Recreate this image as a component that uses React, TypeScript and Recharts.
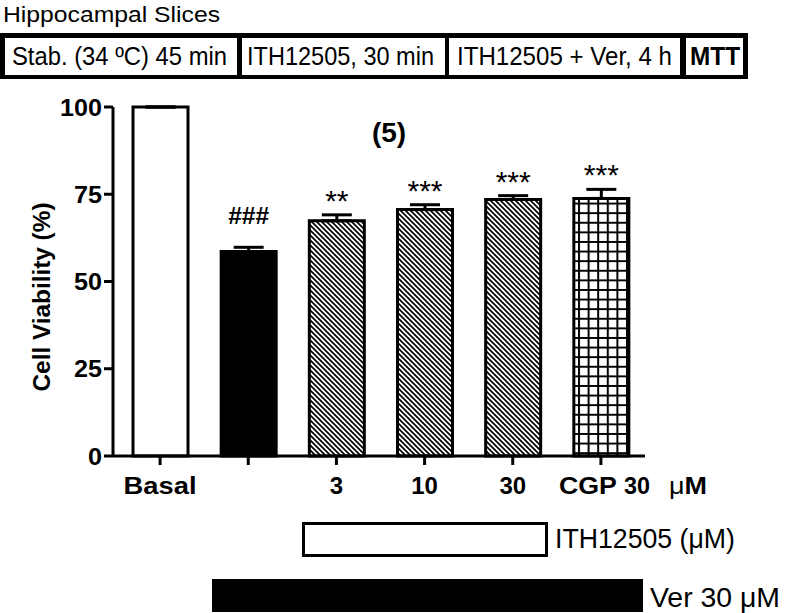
import React from 'react';
import { BarChart, Bar, XAxis, YAxis, ErrorBar, Cell, LabelList } from 'recharts';

const categories = ['Basal', 'Ver', 'ITH3', 'ITH10', 'ITH30', 'CGP'];
const tickLabels = ['Basal', '', '3', '10', '30', 'CGP 30 μM'];
const viability = [100, 58.6, 67.4, 70.6, 73.5, 73.8];
const sem = [0, 1.2, 1.7, 1.4, 1.1, 2.6];
const significance = ['', '###', '**', '***', '***', '***'];
const yTicks = [0, 25, 50, 75, 100];

const barFills = ['#ffffff', '#000000', 'url(#hatch)', 'url(#hatch)', 'url(#hatch)', 'url(#grid)'];

const data = categories.map((name, i) => ({
  name,
  value: viability[i],
  err: [0, sem[i]],
  sig: significance[i],
}));

const FONT = '"Liberation Sans", Arial, Helvetica, sans-serif';

const XTick = (props: any) => {
  const { x, y, payload } = props;
  const idx = categories.indexOf(payload.value);
  const label = tickLabels[idx] || '';
  if (!label) return null;
  if (label.indexOf(' ') >= 0) {
    const words = label.split(' ');
    const offsets = [-42, 23, 68];
    const lengths = [58, 26, 38];
    return (
      <g>
        {words.map((w, i) => (
          <text
            key={i}
            x={x + offsets[i]}
            y={y + 27}
            fontSize={24}
            fontWeight={700}
            fill="#000"
            fontFamily={FONT}
            textLength={lengths[i]}
            lengthAdjust="spacingAndGlyphs"
          >
            {w.startsWith('μ') ? (
              <>
                <tspan fontWeight={400}>μ</tspan>
                {w.slice(1)}
              </>
            ) : (
              w
            )}
          </text>
        ))}
      </g>
    );
  }
  return (
    <text
      x={x}
      y={y + 27}
      textAnchor="middle"
      fontSize={24}
      fontWeight={700}
      fill="#000"
      fontFamily={FONT}
      {...(label.length > 3 ? { textLength: 73, lengthAdjust: 'spacingAndGlyphs' } : {})}
    >
      {label}
    </text>
  );
};

const SigLabel = (props: any) => {
  const vb = props.viewBox || {};
  const x = props.x ?? vb.x;
  const y = props.y ?? vb.y;
  const width = props.width ?? vb.width;
  const height = props.height ?? vb.height;
  const index = props.index;
  if (index === undefined || index === null) return null;
  const s = significance[index];
  if (!s) return null;
  const pxPerUnit = height / viability[index];
  const errTop = y - sem[index] * pxPerUnit;
  const isHash = s.startsWith('#');
  return (
    <text
      x={x + width / 2}
      y={isHash ? errTop - 23 : errTop - 4}
      textAnchor="middle"
      fontSize={isHash ? 24 : 30}
      fontWeight={isHash ? 700 : 400}
      fill="#000"
      fontFamily={FONT}
      {...(isHash ? { textLength: 41, lengthAdjust: 'spacingAndGlyphs' } : {})}
    >
      {s}
    </text>
  );
};

const YTick = (props: any) => {
  const { x, y, payload } = props;
  const s = String(payload.value);
  return (
    <text
      x={x}
      y={y + 8.5}
      textAnchor="end"
      fontSize={24}
      fontWeight={700}
      fill="#000"
      fontFamily={FONT}
      textLength={s.length * 14}
      lengthAdjust="spacingAndGlyphs"
    >
      {s}
    </text>
  );
};

export default function App() {
  return (
    <div
      style={{
        position: 'absolute',
        left: 0,
        top: 0,
        width: 791,
        height: 613,
        background: '#fff',
        fontFamily: FONT,
      }}
    >
      <BarChart
        width={791}
        height={613}
        data={data}
        margin={{ top: 107, right: 146, bottom: 117, left: 53 }}
        barCategoryGap={0}
      >
        <defs>
          <pattern id="hatch" patternUnits="userSpaceOnUse" width="5" height="5">
            <rect width="5" height="5" fill="#fff" />
            <path d="M-1,-1 L6,6 M-1,4 L1,6 M4,-1 L6,1" stroke="#000" strokeWidth="1.7" />
          </pattern>
          <pattern id="grid" patternUnits="userSpaceOnUse" width="9.6" height="9.6" x="2" y="1">
            <rect width="9.6" height="9.6" fill="#fff" />
            <path d="M0,1 L9.6,1 M1,0 L1,9.6" stroke="#000" strokeWidth="2" />
          </pattern>
        </defs>
        <XAxis
          dataKey="name"
          height={40}
          padding={{ left: 3, right: 0 }}
          axisLine={{ stroke: '#000', strokeWidth: 3 }}
          tickLine={{ stroke: '#000', strokeWidth: 3 }}
          tickSize={9}
          interval={0}
          tick={<XTick />}
        />
        <YAxis
          width={60}
          domain={[0, 100]}
          ticks={yTicks}
          axisLine={{ stroke: '#000', strokeWidth: 3 }}
          tickLine={{ stroke: '#000', strokeWidth: 3 }}
          tickSize={9}
          tick={<YTick />}
          interval={0}
        />
        <Bar dataKey="value" barSize={55} stroke="#000" strokeWidth={3} isAnimationActive={false}>
          {data.map((d, i) => (
            <Cell key={d.name} fill={barFills[i]} />
          ))}
          <ErrorBar dataKey="err" width={15} stroke="#000" strokeWidth={3} direction="y" isAnimationActive={false} />
          <LabelList dataKey="sig" content={<SigLabel />} />
        </Bar>
      </BarChart>
      <svg
        width={791}
        height={613}
        style={{ position: 'absolute', left: 0, top: 0, pointerEvents: 'none' }}
        fontFamily={FONT}
      >
        <text x={3} y={22} fontSize={22} textLength={217} lengthAdjust="spacingAndGlyphs" fill="#000">
          Hippocampal Slices
        </text>
        <rect x={0} y={33} width={748} height={46} fill="#000" />
        <rect x={5} y={38} width={232} height={37} fill="#fff" />
        <rect x={242} y={38} width={203} height={37} fill="#fff" />
        <rect x={449} y={38} width={231} height={37} fill="#fff" />
        <rect x={686} y={38} width={57} height={37} fill="#fff" />
        <text x={12} y={65} fontSize={25} textLength={215} lengthAdjust="spacingAndGlyphs" fill="#000">
          Stab. (34 ºC) 45 min
        </text>
        <text x={247} y={65} fontSize={25} textLength={187} lengthAdjust="spacingAndGlyphs" fill="#000">
          ITH12505, 30 min
        </text>
        <text x={457} y={65} fontSize={25} textLength={215} lengthAdjust="spacingAndGlyphs" fill="#000">
          ITH12505 + Ver, 4 h
        </text>
        <text x={690} y={65} fontSize={25} fontWeight={700} textLength={50} lengthAdjust="spacingAndGlyphs" fill="#000">
          MTT
        </text>

        <text x={389} y={142} fontSize={28} fontWeight={700} textAnchor="middle" fill="#000">
          (5)
        </text>

        <text
          transform="translate(50,297) rotate(-90)"
          textAnchor="middle"
          fontSize={23}
          fontWeight={700}
          textLength={189}
          lengthAdjust="spacingAndGlyphs"
          fill="#000"
        >
          Cell Viability (%)
        </text>

        <rect x={303.5} y={523.5} width={243} height={32} fill="#fff" stroke="#000" strokeWidth={3} />
        <text x={555} y={548} fontSize={28} textLength={180} lengthAdjust="spacingAndGlyphs" fill="#000">
          ITH12505 (μM)
        </text>
        <rect x={212} y={579} width={431} height={33} fill="#000" />
        <text x={650} y={607} fontSize={28} textLength={130} lengthAdjust="spacingAndGlyphs" fill="#000">
          Ver 30 μM
        </text>
      </svg>
    </div>
  );
}
